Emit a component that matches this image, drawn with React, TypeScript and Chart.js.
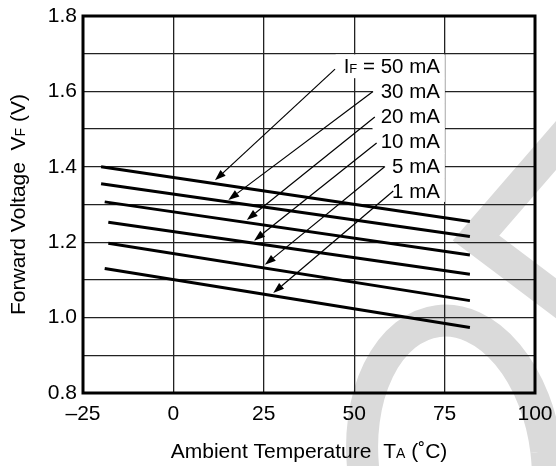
import React, { useEffect, useRef } from 'react';
import { Chart, registerables } from 'chart.js';

Chart.register(...registerables);

// ---- data ----
const currents = ['50 mA', '30 mA', '20 mA', '10 mA', '5 mA', '1 mA'];
const startTemps = [-20, -20, -19, -18, -18, -19];
const endTemps = [82, 82, 82, 82, 82, 82];
const startVolts = [1.4, 1.355, 1.307, 1.253, 1.197, 1.13];
const endVolts = [1.255, 1.215, 1.166, 1.115, 1.045, 0.974];

const xTickValues = [-25, 0, 25, 50, 75, 100];
const xTickLabels = ['–25', '0', '25', '50', '75', '100'];
const yTickValues = [0.8, 1.0, 1.2, 1.4, 1.6, 1.8];
const yTickLabels = ['0.8', '1.0', '1.2', '1.4', '1.6', '1.8'];

// annotation labels and leader arrows (data coordinates)
const labelTemp = 73.7;
const labelVolts = [1.669, 1.602, 1.535, 1.469, 1.403, 1.336];
const arrowFromTemps = [44.7, 55.2, 55.7, 56.2, 58.5, 60.8];
const arrowFromVolts = [1.659, 1.6, 1.532, 1.463, 1.401, 1.336];
const arrowToTemps = [11.5, 15.2, 20.3, 22.3, 25.3, 27.6];
const arrowToVolts = [1.364, 1.312, 1.259, 1.204, 1.14, 1.065];

const FONT = "'Liberation Sans', Arial, Helvetica, sans-serif";
const WM_COLOR = '#dadada';

type Part = { t: string; size: number };

function richWidth(ctx: CanvasRenderingContext2D, parts: Part[]) {
  let w = 0;
  for (const p of parts) {
    ctx.font = `${p.size}px ${FONT}`;
    w += ctx.measureText(p.t).width;
  }
  return w;
}

function drawRich(ctx: CanvasRenderingContext2D, parts: Part[], x: number, y: number) {
  let cx = x;
  ctx.textBaseline = 'alphabetic';
  ctx.textAlign = 'left';
  for (const p of parts) {
    ctx.font = `${p.size}px ${FONT}`;
    ctx.fillText(p.t, cx, y);
    cx += ctx.measureText(p.t).width;
  }
}

const watermarkPlugin = {
  id: 'watermark',
  beforeDraw(chart: any) {
    const ctx = chart.ctx as CanvasRenderingContext2D;
    ctx.save();
    ctx.strokeStyle = WM_COLOR;
    ctx.lineWidth = 32;
    ctx.beginPath();
    ctx.ellipse(455, 462, 92, 142, -0.12, 0, Math.PI * 2);
    ctx.stroke();
    ctx.beginPath();
    ctx.lineJoin = 'miter';
    ctx.moveTo(585, 112);
    ctx.lineTo(476, 238);
    ctx.lineTo(585, 320);
    ctx.stroke();
    ctx.restore();
  },
};

function labelParts(i: number, c: string): Part[] {
  if (i === 0) {
    return [
      { t: 'I', size: 20.5 },
      { t: 'F', size: 13 },
      { t: ' = ' + c, size: 20.5 },
    ];
  }
  return [{ t: c, size: 20.5 }];
}

const annotationPlugin = {
  id: 'annotations',
  beforeDatasetsDraw(chart: any) {
    const ctx = chart.ctx as CanvasRenderingContext2D;
    const xs = chart.scales.x;
    const ys = chart.scales.y;
    ctx.save();
    ctx.fillStyle = '#ffffff';
    currents.forEach((c, i) => {
      const parts = labelParts(i, c);
      const w = richWidth(ctx, parts);
      const right = xs.getPixelForValue(labelTemp);
      const cy = ys.getPixelForValue(labelVolts[i]);
      const top = i === 0 ? cy - 11 : cy - 12.8;
      const bottom = i === currents.length - 1 ? cy + 11 : cy + 12.8;
      ctx.fillRect(right - w - 8, top, w + 13, bottom - top);
    });
    ctx.restore();
  },
  afterDatasetsDraw(chart: any) {
    const ctx = chart.ctx as CanvasRenderingContext2D;
    const xs = chart.scales.x;
    const ys = chart.scales.y;
    ctx.save();
    ctx.fillStyle = '#000';
    ctx.strokeStyle = '#000';
    currents.forEach((c, i) => {
      const parts = labelParts(i, c);
      const w = richWidth(ctx, parts);
      const right = xs.getPixelForValue(labelTemp);
      const cy = ys.getPixelForValue(labelVolts[i]);
      drawRich(ctx, parts, right - w, cy + 7.2);

      const x1 = xs.getPixelForValue(arrowFromTemps[i]);
      const y1 = ys.getPixelForValue(arrowFromVolts[i]);
      const x2 = xs.getPixelForValue(arrowToTemps[i]);
      const y2 = ys.getPixelForValue(arrowToVolts[i]);
      const ang = Math.atan2(y2 - y1, x2 - x1);
      const len = 11;
      const hw = 3.8;
      const bx = x2 - len * Math.cos(ang);
      const by = y2 - len * Math.sin(ang);
      ctx.lineWidth = 1.2;
      ctx.beginPath();
      ctx.moveTo(x1, y1);
      ctx.lineTo(bx, by);
      ctx.stroke();
      ctx.beginPath();
      ctx.moveTo(x2, y2);
      ctx.lineTo(bx + hw * Math.sin(ang), by - hw * Math.cos(ang));
      ctx.lineTo(bx - hw * Math.sin(ang), by + hw * Math.cos(ang));
      ctx.closePath();
      ctx.fill();
    });
    ctx.restore();
  },
  afterDraw(chart: any) {
    const ctx = chart.ctx as CanvasRenderingContext2D;
    const a = chart.chartArea;
    ctx.save();
    // frame
    ctx.strokeStyle = '#000';
    ctx.lineWidth = 3;
    ctx.strokeRect(a.left, a.top, a.right - a.left, a.bottom - a.top);
    ctx.fillStyle = '#000';
    // x title
    const xParts: Part[] = [
      { t: 'Ambient Temperature  T', size: 21 },
      { t: 'A', size: 14 },
      { t: ' (˚C)', size: 21 },
    ];
    const xw = richWidth(ctx, xParts);
    drawRich(ctx, xParts, (a.left + a.right) / 2 - xw / 2, 458);
    // y title
    const yParts: Part[] = [
      { t: 'Forward Voltage  V', size: 21 },
      { t: 'F', size: 14 },
      { t: ' (V)', size: 21 },
    ];
    const yw = richWidth(ctx, yParts);
    ctx.translate(25, (a.top + a.bottom) / 2);
    ctx.rotate(-Math.PI / 2);
    drawRich(ctx, yParts, -yw / 2, 0);
    ctx.restore();
  },
};

export default function App() {
  const ref = useRef<HTMLCanvasElement | null>(null);

  useEffect(() => {
    if (!ref.current) return;
    const datasets = currents.map((c, i) => ({
      label: c,
      data: [
        { x: startTemps[i], y: startVolts[i] },
        { x: endTemps[i], y: endVolts[i] },
      ],
      borderColor: '#000',
      borderWidth: 3,
      pointRadius: 0,
      fill: false,
      tension: 0,
    }));

    const chart = new Chart(ref.current, {
      type: 'line',
      data: { datasets },
      options: {
        animation: false,
        responsive: false,
        maintainAspectRatio: false,
        layout: { padding: { top: 16, right: 21, left: 0, bottom: 0 } },
        plugins: {
          legend: { display: false },
          tooltip: { enabled: false },
          title: { display: false },
        },
        scales: {
          x: {
            type: 'linear',
            min: -25,
            max: 100,
            afterFit: (s: any) => {
              s.height = 73;
              s.paddingLeft = 0;
              s.paddingRight = 0;
            },
            afterBuildTicks: (s: any) => {
              s.ticks = xTickValues.map((v) => ({ value: v }));
            },
            ticks: {
              autoSkip: false,
              maxRotation: 0,
              padding: 9,
              color: '#000',
              font: { family: FONT, size: 21 },
              callback: (v: any) => {
                const k = xTickValues.indexOf(Number(v));
                return k >= 0 ? xTickLabels[k] : '';
              },
            },
            grid: { color: '#222', lineWidth: 1.3, drawTicks: false },
            border: { display: false },
          },
          y: {
            type: 'linear',
            min: 0.8,
            max: 1.8,
            afterFit: (s: any) => {
              s.width = 83;
              s.paddingTop = 0;
              s.paddingBottom = 0;
            },
            ticks: {
              stepSize: 0.1,
              autoSkip: false,
              padding: 6,
              color: '#000',
              font: { family: FONT, size: 21 },
              callback: (v: any) => {
                const n = Number(v);
                const k = yTickValues.findIndex((t) => Math.abs(t - n) < 1e-6);
                return k >= 0 ? yTickLabels[k] : '';
              },
            },
            grid: { color: '#222', lineWidth: 1.3, drawTicks: false },
            border: { display: false },
          },
        },
      },
      plugins: [watermarkPlugin, annotationPlugin],
    } as any);

    return () => chart.destroy();
  }, []);

  return (
    <div style={{ position: 'absolute', left: 0, top: 0, width: 556, height: 466, background: '#fff' }}>
      <canvas ref={ref} width={556} height={466} style={{ display: 'block' }} />
    </div>
  );
}
